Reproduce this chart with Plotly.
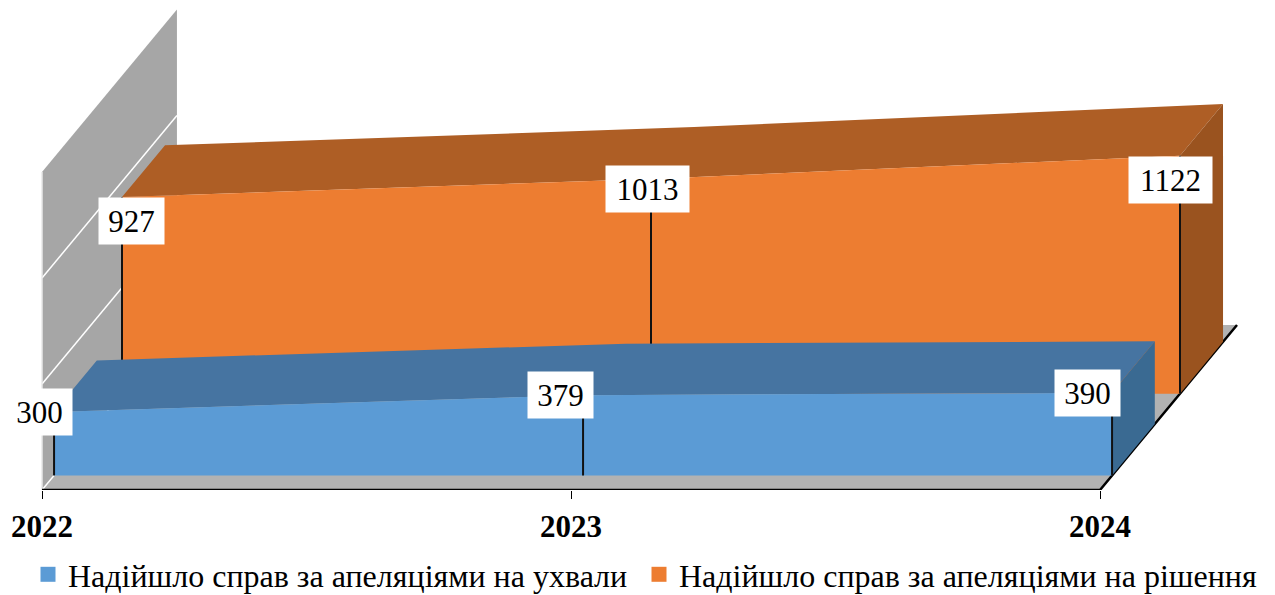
import plotly.graph_objects as go

# --- data ---
YEARS = ["2022", "2023", "2024"]
APPEALS_RULINGS = [300, 379, 390]
APPEALS_DECISIONS = [927, 1013, 1122]
NAME_RULINGS = "Надійшло справ за апеляціями на ухвали"
NAME_DECISIONS = "Надійшло справ за апеляціями на рішення"
WALL_TICKS = [0, 500, 1000, 1500]

# --- oblique 3D look (style constants) ---
PX_PER_CAT = 529.0
PX_PER_VAL = 0.212
ORIGIN_X, BASE_Y = 42.0, 490.0
W, H = 1275, 595
DX = 137.0 / PX_PER_CAT       # floor depth in category units
DY = 165.0 / PX_PER_VAL       # floor depth in value units
SERIF = "Liberation Serif, Times New Roman, serif"
WALL, FLOOR = "#a6a6a6", "#b2b2b2"
WALL_DEPTH = 0.985


def proj(c, v, d):
    return c + d * DX, v + d * DY


def poly(points, color, line=None, width=0):
    xs, ys = zip(*[proj(*p) for p in points])
    return go.Scatter(
        x=list(xs), y=list(ys), mode="lines", fill="toself" if color else None,
        fillcolor=color, line=dict(color=line or "rgba(0,0,0,0)", width=width),
        hoverinfo="skip", showlegend=False, cliponaxis=False,
    )


fig = go.Figure()
cats = list(range(len(YEARS)))
top = WALL_TICKS[-1]

# wall and floor
fig.add_trace(poly([(0, 0, 0), (0, top, 0), (0, top, WALL_DEPTH), (0, 0, WALL_DEPTH)], WALL))
fig.add_trace(poly([(0, 0, 0), (2, 0, 0), (2, 0, 1), (0, 0, 1)], FLOOR))
for t in WALL_TICKS[:-1]:
    fig.add_trace(poly([(0, t, 0), (0, t, WALL_DEPTH)], None, "#ffffff", 1.5))
fig.add_trace(poly([(0, 0, 0), (0, top, 0)], None, "#e8e8e8", 1.5))
# floor front and right edge
fig.add_trace(poly([(0, 0, 0), (2, 0, 0), (2, 0, 1)], None, "#000000", 2.5))


def ribbon(vals, d0, d1, front, roof, side):
    fig.add_trace(poly([(c, v, d0) for c, v in zip(cats, vals)]
                       + [(c, v, d1) for c, v in reversed(list(zip(cats, vals)))], roof))
    fig.add_trace(poly([(2, 0, d0), (2, vals[-1], d0), (2, vals[-1], d1), (2, 0, d1)], side))
    fig.add_trace(poly([(0, 0, d0)] + [(c, v, d0) for c, v in zip(cats, vals)] + [(2, 0, d0)], front))
    for c, v in zip(cats, vals):
        fig.add_trace(poly([(c, 0, d0), (c, v, d0)], None, "#111111", 2))


ribbon(APPEALS_DECISIONS, 0.584, 0.898, "#ed7d31", "#ae5e25", "#9a531f")
ribbon(APPEALS_RULINGS, 0.088, 0.40, "#5b9bd5", "#4674a1", "#3a6a92")

# legend entries
for name, col, lg in [(NAME_RULINGS, "#5b9bd5", "legend"), (NAME_DECISIONS, "#ed7d31", "legend2")]:
    fig.add_trace(go.Scatter(x=[None], y=[None], mode="markers", name=name, legend=lg,
                             showlegend=True,
                             marker=dict(symbol="square", size=15, color=col)))

# value labels: series, depth, pixel offset of the box centre from the point
labels = [
    (APPEALS_RULINGS, 0.088, [(-15, 0), (-23, 0), (-25, 0)]),
    (APPEALS_DECISIONS, 0.584, [(9, 24), (-4, 10), (-10, 24)]),
]
for vals, d, offs in labels:
    for c, v, (ox, oy) in zip(cats, vals, offs):
        x, y = proj(c, v, d)
        fig.add_annotation(
            x=x, y=y, text=str(v), showarrow=False, xshift=ox, yshift=-oy,
            font=dict(family=SERIF, size=31, color="#000000"), bgcolor="#ffffff",
            width=83 if v >= 1000 else 65, height=46, borderpad=0,
            xanchor="center", yanchor="middle",
        )

legend_common = dict(
    orientation="h", y=0, xanchor="left", yanchor="bottom",
    font=dict(family=SERIF, size=32, color="#000000"),
    itemsizing="trace", itemwidth=30, bgcolor="rgba(0,0,0,0)",
)

fig.update_layout(
    width=W, height=H, autosize=False, paper_bgcolor="#ffffff", plot_bgcolor="rgba(0,0,0,0)",
    margin=dict(l=0, r=0, t=0, b=0),
    xaxis=dict(
        domain=[0, 1], range=[-ORIGIN_X / PX_PER_CAT, (W - ORIGIN_X) / PX_PER_CAT],
        tickmode="array", tickvals=cats, ticktext=YEARS, ticks="outside", ticklen=8,
        tickwidth=1, tickcolor="#000000", showgrid=False, zeroline=False, showline=False,
        tickfont=dict(family=SERIF, size=31, color="#000000", weight="bold"),
        ticklabelstandoff=1,
    ),
    yaxis=dict(
        domain=[(H - BASE_Y) / H, 1], range=[0, BASE_Y / PX_PER_VAL],
        visible=False, showgrid=False, zeroline=False,
    ),
    legend=dict(x=28 / W, **legend_common),
    legend2=dict(x=639 / W, **legend_common),
    showlegend=True,
)

# the legend's inner padding keeps it too high at the paper's bottom edge: nudge it down
POST = """
document.body.style.margin = '0';
(function () {
  var gd = document.getElementById('{plot_id}');
  function nudge() {
    gd.querySelectorAll('g.legend, g.legend2').forEach(function (g) {
      var t = g.getAttribute('transform') || '';
      if (t.indexOf('translate(0,7)') < 0) g.setAttribute('transform', t + ' translate(0,7)');
    });
  }
  nudge();
  if (gd.on) gd.on('plotly_afterplot', nudge);
  setTimeout(nudge, 0);
})();
"""

fig.write_html("out.html", config={"displayModeBar": False}, post_script=POST)
